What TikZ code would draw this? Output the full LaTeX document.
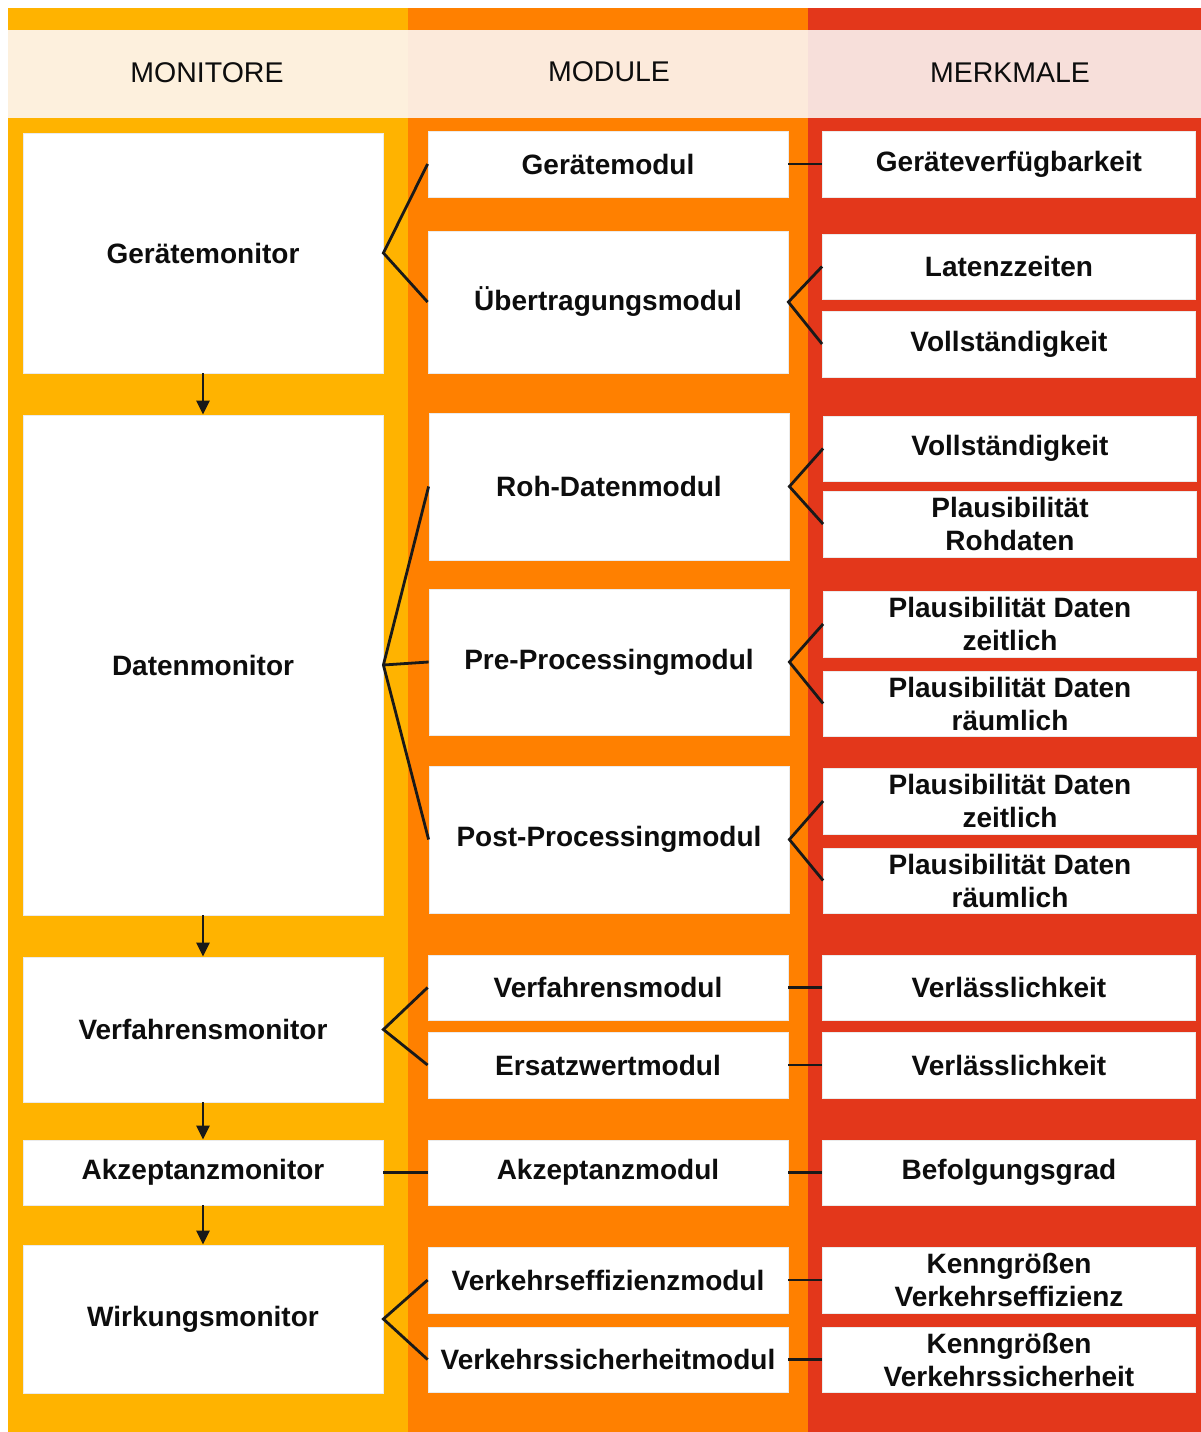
\documentclass[tikz,border=0pt]{standalone}
\usepackage{fontspec}
\setmainfont{Liberation Sans}
\definecolor{monyellow}{RGB}{255,179,0}
\definecolor{modorange}{RGB}{255,128,0}
\definecolor{merkred}{RGB}{227,55,27}
\definecolor{monhead}{RGB}{253,240,221}
\definecolor{modhead}{RGB}{252,234,219}
\definecolor{merkhead}{RGB}{247,223,218}
\usetikzlibrary{arrows.meta}

\begin{document}
\begin{tikzpicture}[
    x=1pt, y=-1pt,
    box/.style={fill=white, draw=black!8, line width=0.8pt, inner sep=2pt,
      align=center, font=\fontsize{28}{33}\selectfont\bfseries, text=black!95},
    monbox/.style={box, minimum width=360pt},
    modbox/.style={box, minimum width=360pt},
    merkbox/.style={box, minimum width=373pt},
    head/.style={font=\fontsize{28.5}{33}\selectfont, text=black!95},
    link/.style={line width=2.8pt, black!90},
    flow/.style={line width=2.8pt, black!90, -{Triangle[width=13pt,length=14pt]}},
  ]
    \useasboundingbox (0,0) rectangle (1201,1432);
    % columns
    \fill[monyellow] (8,8) rectangle (408,1432);
    \fill[modorange] (408,8) rectangle (808,1432);
    \fill[merkred] (808,8) rectangle (1201,1432);
    \fill[monhead] (8,30) rectangle (408,118);
    \fill[modhead] (408,30) rectangle (808,118);
    \fill[merkhead] (808,30) rectangle (1201,118);
    \node[head] (hmon) at (207,73) {MONITORE};
    \node[head] (hmod) at (609,72) {MODULE};
    \node[head] (hmerk) at (1010,73) {MERKMALE};

    % monitore
    \node[monbox, minimum height=240pt] (gmon) at (203,253) {Gerätemonitor};
    \node[monbox, minimum height=500pt] (dmon) at (203,665) {Datenmonitor};
    \node[monbox, minimum height=145pt] (vmon) at (203,1029.5) {Verfahrensmonitor};
    \node[monbox, minimum height=65pt] (amon) at (203,1172.5) {Akzeptanzmonitor};
    \node[monbox, minimum height=148pt] (wmon) at (203,1319) {Wirkungsmonitor};

    % module
    \node[modbox, minimum height=66pt] (gmod) at (608,164) {Gerätemodul};
    \node[modbox, minimum height=142pt] (umod) at (608,302) {Übertragungsmodul};
    \node[modbox, minimum height=147pt] (rmod) at (609,486.5) {Roh-Datenmodul};
    \node[modbox, minimum height=146pt] (premod) at (609,662) {Pre-Processingmodul};
    \node[modbox, minimum height=147pt] (postmod) at (609,839.5) {Post-Processingmodul};
    \node[modbox, minimum height=65pt] (vfmod) at (608,987.5) {Verfahrensmodul};
    \node[modbox, minimum height=66pt] (emod) at (608,1065) {Ersatzwertmodul};
    \node[modbox, minimum height=65pt] (amod) at (608,1172.5) {Akzeptanzmodul};
    \node[modbox, minimum height=66pt] (vemod) at (608,1280) {Verkehrseffizienzmodul};
    \node[modbox, minimum height=65pt] (vsmod) at (608,1359.5) {Verkehrssicherheitmodul};

    % merkmale
    \node[merkbox, minimum height=66pt] (gverf) at (1009,164) {Geräteverfügbarkeit};
    \node[merkbox, minimum height=65pt] (latenz) at (1009,266.5) {Latenzzeiten};
    \node[merkbox, minimum height=66pt] (vollu) at (1009,344) {Vollständigkeit};
    \node[merkbox, minimum height=65pt] (vollr) at (1010,448.5) {Vollständigkeit};
    \node[merkbox, minimum height=66pt] (plausr) at (1010,524) {Plausibilität\\Rohdaten};
    \node[merkbox, minimum height=66pt] (zeitpre) at (1010,624) {Plausibilität Daten\\zeitlich};
    \node[merkbox, minimum height=65pt] (raumpre) at (1010,703.5) {Plausibilität Daten\\räumlich};
    \node[merkbox, minimum height=66pt] (zeitpost) at (1010,801) {Plausibilität Daten\\zeitlich};
    \node[merkbox, minimum height=65pt] (raumpost) at (1010,880.5) {Plausibilität Daten\\räumlich};
    \node[merkbox, minimum height=65pt] (verl1) at (1009,987.5) {Verlässlichkeit};
    \node[merkbox, minimum height=66pt] (verl2) at (1009,1065) {Verlässlichkeit};
    \node[merkbox, minimum height=65pt] (befolg) at (1009,1172.5) {Befolgungsgrad};
    \node[merkbox, minimum height=66pt] (keff) at (1009,1280) {Kenngrößen\\Verkehrseffizienz};
    \node[merkbox, minimum height=65pt] (ksich) at (1009,1359.5) {Kenngrößen\\Verkehrssicherheit};

    % monitor -> monitor
    \draw[flow] (gmon) -- (dmon);
    \draw[flow] (dmon) -- (vmon);
    \draw[flow] (vmon) -- (amon);
    \draw[flow] (amon) -- (wmon);

    % monitor -- module
    \draw[link] (gmod.west) -- (gmon.east) -- (umod.west);
    \draw[link] (rmod.west) -- (dmon.east) -- (postmod.west);
    \draw[link] (dmon.east) -- (premod.west);
    \draw[link] (vfmod.west) -- (vmon.east) -- (emod.west);
    \draw[link] (amon) -- (amod);
    \draw[link] (vemod.west) -- (wmon.east) -- (vsmod.west);

    % module -- merkmale
    \draw[link] (gmod) -- (gverf);
    \draw[link] (latenz.west) -- (umod.east) -- (vollu.west);
    \draw[link] (vollr.west) -- (rmod.east) -- (plausr.west);
    \draw[link] (zeitpre.west) -- (premod.east) -- (raumpre.west);
    \draw[link] (zeitpost.west) -- (postmod.east) -- (raumpost.west);
    \draw[link] (vfmod) -- (verl1);
    \draw[link] (emod) -- (verl2);
    \draw[link] (amod) -- (befolg);
    \draw[link] (vemod) -- (keff);
    \draw[link] (vsmod) -- (ksich);
  \end{tikzpicture}
\end{document}
